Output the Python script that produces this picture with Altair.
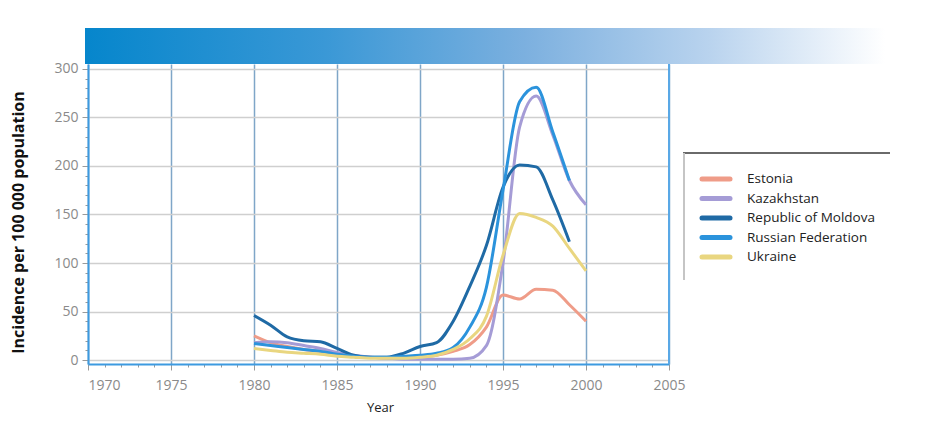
import altair as alt
import pandas as pd

years = list(range(1980, 2001))
countries = ["Estonia", "Kazakhstan", "Republic of Moldova", "Russian Federation", "Ukraine"]
colors = ["#ef9c88", "#a59cd6", "#1f6aa5", "#2b93dc", "#e9d680"]

estonia = [25, 18, 14, 11, 9, 6, 4, 3, 2, 2, 3, 5, 9, 16, 34, 67, 63, 73, 72, 57, 40]
kazakhstan = [18, 19, 18, 15, 12, 8, 5, 3, 2, 1, 1, 1, 1, 2, 15, 100, 240, 272, 232, 185, 160]
moldova = [46, 36, 24, 20, 19, 12, 5, 3, 3, 7, 14, 18, 40, 76, 118, 178, 201, 199, 165, 122, None]
russia = [17, 15, 13, 11, 9, 6, 4, 3, 3, 4, 5, 7, 13, 34, 75, 175, 266, 281, 235, 185, None]
ukraine = [12, 10, 8, 7, 6, 4, 3, 2, 2, 2, 3, 5, 11, 22, 45, 108, 151, 147, 138, 115, 92]

series = [estonia, kazakhstan, moldova, russia, ukraine]
rows = []
for name, vals in zip(countries, series):
    for yr, v in zip(years, vals):
        if v is not None:
            rows.append({"Year": yr, "Country": name, "Value": v})
df = pd.DataFrame(rows)
legend_df = pd.DataFrame({"Country": countries})

x_ticks = list(range(1970, 2006))
y_ticks = list(range(0, 301, 10))

FONT = "Open Sans"
color_scale = alt.Scale(domain=countries, range=colors)

lines = alt.Chart(df).mark_line(strokeWidth=3, interpolate="monotone", clip=True).encode(
    x=alt.X("Year:Q",
            scale=alt.Scale(domain=[1970, 2005], nice=False, zero=False),
            axis=alt.Axis(values=x_ticks, format="d",
                          labelExpr="datum.value % 5 == 0 ? datum.label : ''",
                          labelAlign={"expr": "datum.value == 1970 ? 'left' : 'center'"},
                          labelFont=FONT, labelFontSize=14, labelColor="#8a8a8a",
                          labelPadding=8,
                          tickColor="#9a9a9a",
                          tickSize={"expr": "datum.value % 5 == 0 ? 6 : 3"},
                          gridColor="#7fa6c8", gridWidth=1.5,
                          gridOpacity={"expr": "datum.value % 5 == 0 ? 1 : 0"},
                          domainColor="#3d9ae0", domainWidth=2,
                          title="Year", titleFont=FONT, titleFontSize=13,
                          titleFontWeight="normal", titleColor="#222",
                          titleX=292, titleY=43, titleBaseline="middle")),
    y=alt.Y("Value:Q",
            scale=alt.Scale(domain=[-4, 305], nice=False, zero=False),
            axis=alt.Axis(values=y_ticks,
                          labelExpr="datum.value % 50 == 0 ? datum.label : ''",
                          labelFont=FONT, labelFontSize=14, labelColor="#8a8a8a",
                          labelPadding=4,
                          tickColor="#9a9a9a",
                          tickSize={"expr": "datum.value % 50 == 0 ? 6 : 3"},
                          gridColor="#cfcfcf", gridWidth=1.5,
                          gridOpacity={"expr": "datum.value % 50 == 0 ? 1 : 0"},
                          domainColor="#3d9ae0", domainWidth=2,
                          title="Incidence per 100 000 population", titleFont=FONT,
                          titleFontSize=16, titleFontWeight="bold", titleColor="#111",
                          titleX=-70, titleY=158, titleBaseline="middle")),
    color=alt.Color("Country:N", scale=color_scale, legend=None),
)

legend_y = alt.Y("Country:N",
                 scale=alt.Scale(type="point", domain=countries, range=[115, 193], padding=0),
                 axis=None)

legend_sym = alt.Chart(legend_df).mark_rule(strokeWidth=5, strokeCap="round").encode(
    x=alt.value(614), x2=alt.value(642), y=legend_y,
    color=alt.Color("Country:N", scale=color_scale, legend=None))
legend_txt = alt.Chart(legend_df).mark_text(
    align="left", baseline="middle", font=FONT, fontSize=13.5, color="#222"
).encode(x=alt.value(659), y=legend_y, text="Country:N")

bar = alt.Chart(df).mark_rect(
    color=alt.LinearGradient(
        gradient="linear", x1=0, x2=1, y1=0, y2=0,
        stops=[alt.GradientStop(color="#0686cc", offset=0),
               alt.GradientStop(color="#3a98d6", offset=0.3),
               alt.GradientStop(color="#7cb0df", offset=0.55),
               alt.GradientStop(color="#b9d3ee", offset=0.78),
               alt.GradientStop(color="#ffffff", offset=1)])
).encode(x=alt.value(-3), x2=alt.value(797), y=alt.value(-36), y2=alt.value(0))

right_border = alt.Chart(df).mark_rule(color="#5aa8e6", strokeWidth=1.5).encode(
    x=alt.value(581), y=alt.value(0), y2=alt.value(300))

legend_top = alt.Chart(df).mark_rule(color="#6a6a6a", strokeWidth=2).encode(
    x=alt.value(595), x2=alt.value(802), y=alt.value(89))
legend_left = alt.Chart(df).mark_rule(color="#c4c4c4", strokeWidth=1.5).encode(
    x=alt.value(596), y=alt.value(89), y2=alt.value(216))

legend_layer = alt.layer(legend_sym, legend_txt)

chart = alt.layer(lines, right_border, bar, legend_top, legend_left, legend_layer).resolve_scale(
    y="independent"
).properties(
    width=581, height=300,
    autosize=alt.AutoSizeParams(type="none"),
    padding={"left": 80, "top": 56, "right": 264, "bottom": 51},
    background="white",
).configure_view(stroke=None)

chart.save("out.html", embed_options={"renderer": "svg", "actions": False})
